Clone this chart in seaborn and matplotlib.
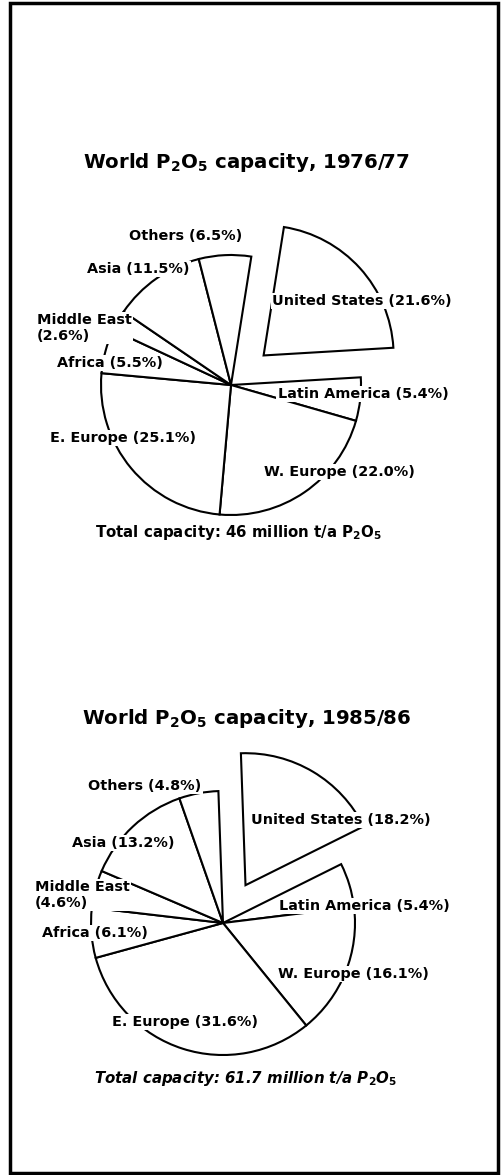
import matplotlib
matplotlib.use("Agg")
import matplotlib.pyplot as plt
from matplotlib.patches import Rectangle
import seaborn as sns

# --- DADOS ---
regioes = ["United States", "Latin America", "W. Europe", "E. Europe",
           "Africa", "Middle East", "Asia", "Others"]
cota_1976 = [21.6, 5.4, 22.0, 25.1, 5.5, 2.6, 11.5, 6.5]
cota_1985 = [18.2, 5.4, 16.1, 31.6, 6.1, 4.6, 13.2, 4.8]
anos = ["1976/77", "1985/86"]
capacidade_total = ["46", "61.7"]

# --- LAYOUT (pixels da imagem, y para baixo) ---
W, H = 501, 1175
LAYOUT = [
    dict(centro=(231, 385), raio=130, inicio=81, titulo_y=162, total_y=533, total_x=239,
         italico=False,
         rotulos=[(362, 301, "center"), (363, 394, "center"), (339, 472, "center"),
                  (123, 438, "center"), (110, 363, "center"), (37, 328, "left"),
                  (138, 269, "center"), (186, 236, "center")]),
    dict(centro=(223, 923), raio=132, inicio=92, titulo_y=718, total_y=1079, total_x=246,
         italico=True,
         rotulos=[(341, 820, "center"), (364, 906, "center"), (353, 974, "center"),
                  (185, 1022, "center"), (95, 933, "center"), (35, 895, "left"),
                  (123, 843, "center"), (145, 786, "center")]),
]
DESLOC_EUA = 44  # deslocamento da fatia dos EUA (px)


def desenha_pizza(ax, cotas, ano, total, lay):
    cx, cy = lay["centro"]
    explode = [DESLOC_EUA] + [0] * (len(cotas) - 1)
    ax.pie(cotas, center=(cx, H - cy), radius=lay["raio"], startangle=lay["inicio"],
           counterclock=False, explode=explode, normalize=True,
           wedgeprops=dict(facecolor="white", edgecolor="black", linewidth=1.5))

    ax.text(W / 2 - 4, H - lay["titulo_y"],
            r"World P$_\mathbf{2}$O$_\mathbf{5}$ capacity, " + ano,
            ha="center", va="center", fontsize=14.2, fontweight="bold")

    for reg, v, (x, y, ha) in zip(regioes, cotas, lay["rotulos"]):
        if reg == "Middle East":
            txt = f"{reg}\n({v:.1f}%)"
        else:
            txt = f"{reg} ({v:.1f}%)"
        ax.text(x, H - y, txt, ha=ha, va="center", fontsize=10.4, fontweight="bold",
                linespacing=1.1, zorder=5,
                bbox=dict(facecolor="white", edgecolor="none", pad=1.0))

    ax.text(lay["total_x"], H - lay["total_y"],
            f"Total capacity: {total} million t/a P$_\\mathbf{{2}}$O$_\\mathbf{{5}}$",
            ha="center", va="center", fontsize=10.8, fontweight="bold",
            style="italic" if lay["italico"] else "normal")


def main():
    sns.set_theme(style="white")
    plt.rcParams["font.family"] = ["DejaVu Sans"]
    plt.rcParams["text.color"] = "black"

    fig = plt.figure(figsize=(W / 100, H / 100), dpi=100)
    ax = fig.add_axes([0, 0, 1, 1])

    for cotas, ano, total, lay in zip([cota_1976, cota_1985], anos, capacidade_total, LAYOUT):
        desenha_pizza(ax, cotas, ano, total, lay)

    # moldura
    ax.add_patch(Rectangle((10, 2), 488, 1170, fill=False, edgecolor="black", linewidth=2.5))

    ax.set_xlim(0, W)
    ax.set_ylim(0, H)
    ax.set_aspect("equal")
    ax.axis("off")
    fig.savefig("out.png", dpi=100, facecolor="white")
    plt.close(fig)


if __name__ == "__main__":
    main()
